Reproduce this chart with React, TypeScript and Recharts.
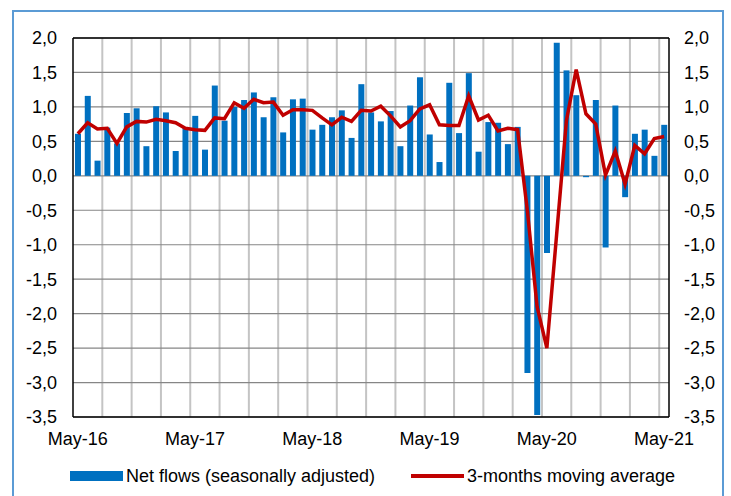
import React from 'react';
import { ComposedChart, Bar, Line, XAxis, YAxis, CartesianGrid, Legend, ReferenceLine } from 'recharts';

const monthNames = ['Jan', 'Feb', 'Mar', 'Apr', 'May', 'Jun', 'Jul', 'Aug', 'Sep', 'Oct', 'Nov', 'Dec'];
const categories: string[] = [];
for (let i = 0; i < 61; i++) {
  const m = (4 + i) % 12;
  const y = 16 + Math.floor((4 + i) / 12);
  categories.push(`${monthNames[m]}-${y}`);
}

const netFlows = [
  0.61, 1.16, 0.22, 0.70, 0.47, 0.91, 0.98, 0.43, 1.01, 0.92,
  0.36, 0.70, 0.87, 0.38, 1.31, 0.80, 1.00, 1.10, 1.21, 0.85,
  1.14, 0.63, 1.11, 1.12, 0.67, 0.74, 0.85, 0.95, 0.55, 1.33,
  0.92, 0.79, 0.94, 0.43, 1.02, 1.43, 0.60, 0.20, 1.35, 0.62,
  1.49, 0.35, 0.78, 0.77, 0.46, 0.71, -2.86, -3.47, -1.12, 1.93,
  1.53, 1.17, -0.02, 1.10, -1.04, 1.02, -0.31, 0.61, 0.67, 0.29,
  0.74,
];

const movingAvg = [
  0.61, 0.77, 0.68, 0.69, 0.47, 0.71, 0.79, 0.78, 0.82, 0.80,
  0.77, 0.69, 0.67, 0.66, 0.84, 0.83, 1.06, 0.98, 1.11, 1.06,
  1.07, 0.88, 0.96, 0.96, 0.95, 0.84, 0.74, 0.85, 0.79, 0.95,
  0.94, 1.01, 0.87, 0.71, 0.80, 0.97, 1.03, 0.74, 0.73, 0.73,
  1.16, 0.81, 0.88, 0.65, 0.69, 0.67, -0.50, -1.90, -2.50, -0.85,
  0.80, 1.54, 0.90, 0.75, 0.01, 0.36, -0.12, 0.44, 0.32, 0.54,
  0.57,
];

const yTicks = [2, 1.5, 1, 0.5, 0, -0.5, -1, -1.5, -2, -2.5, -3, -3.5];
// vertical gridlines every 3 months, at the start of these categories
const gridCategoryIdx = [3, 6, 9, 12, 15, 18, 21, 24, 27, 30, 33, 36, 39, 42, 45, 48, 51, 54, 57, 60];

const seriesNames = ['Net flows (seasonally adjusted)', '3-months moving average'];

const data = categories.map((cat, i) => ({ cat, net: netFlows[i], ma: movingAvg[i] }));

const FONT = '"Liberation Sans", Arial, sans-serif';
const tickStyle = { fontFamily: FONT, fontSize: 18, fill: '#000' };
const fmt = (v: number) => v.toFixed(1).replace('.', ',');

const verticalGen = (p: any) => {
  const offset = p && p.offset;
  if (!offset) return [];
  return gridCategoryIdx.map((k) => offset.left + (k / categories.length) * offset.width);
};

const LegendContent = (props: any) => {
  const payload = props.payload || [];
  const items = seriesNames.map((n) => payload.find((p: any) => p.value === n)).filter(Boolean);
  const lefts = [70, 411];
  return (
    <div style={{ position: 'relative', width: 731, height: 0 }}>
      {items.map((p: any, i: number) => (
        <div key={i} style={{ position: 'absolute', left: lefts[i], top: 466, height: 20, display: 'flex', alignItems: 'center', whiteSpace: 'nowrap' }}>
          {p.type === 'line' || p.dataKey === 'ma' ? (
            <div style={{ width: 53, height: 3.5, background: p.color || '#C00000' }} />
          ) : (
            <div style={{ width: 53, height: 10, background: p.color || '#0070C0' }} />
          )}
          <span style={{ marginLeft: 3, fontFamily: FONT, fontSize: 18, color: '#000', lineHeight: '20px' }}>{p.value}</span>
        </div>
      ))}
    </div>
  );
};

export default function App() {
  return (
    <div style={{ position: 'absolute', left: 0, top: 0, width: 731, height: 496, overflow: 'hidden', background: '#fff' }}>
      <div style={{ position: 'absolute', left: 12, top: 10, width: 708, height: 600, border: '2px solid #5B9BD5' }} />
      <div style={{ position: 'absolute', left: 0, top: 0 }}>
        <ComposedChart width={731} height={496} data={data} margin={{ top: 38, right: 0, bottom: 49, left: 0 }}>
          <CartesianGrid
            stroke="#c4c4c4"
            strokeWidth={2}
            horizontal={false}
            verticalCoordinatesGenerator={verticalGen}
          />
          <CartesianGrid stroke="#868686" strokeWidth={1.2} vertical={false} />
          <XAxis
            dataKey="cat"
            interval={11}
            height={30}
            tickLine={false}
            tickSize={6}
            tickMargin={9}
            axisLine={{ stroke: '#000', strokeWidth: 1.5 }}
            tick={tickStyle}
          />
          <YAxis
            domain={[-3.5, 2]}
            ticks={yTicks}
            interval={0}
            width={73}
            tickLine={false}
            tickSize={6}
            tickMargin={10}
            tickFormatter={fmt}
            axisLine={{ stroke: '#000', strokeWidth: 1.5 }}
            tick={tickStyle}
          />
          <YAxis
            yAxisId="right"
            orientation="right"
            domain={[-3.5, 2]}
            ticks={yTicks}
            interval={0}
            width={62}
            tickLine={false}
            tickSize={6}
            tickMargin={9}
            tickFormatter={fmt}
            axisLine={{ stroke: '#000', strokeWidth: 1.5 }}
            tick={{ ...tickStyle, textAnchor: 'start' }}
            allowDataOverflow
          />
          <Bar dataKey="net" name={seriesNames[0]} fill="#0070C0" barSize={6} isAnimationActive={false} />
          <Line dataKey="ma" name={seriesNames[1]} stroke="#C00000" strokeWidth={3.5} dot={false} activeDot={false} type="linear" isAnimationActive={false} />
          <ReferenceLine y={2} stroke="#000" strokeWidth={1.5} />
          <Legend content={<LegendContent />} wrapperStyle={{ top: 0, left: 0, width: 731, height: 0 }} />
        </ComposedChart>
      </div>
    </div>
  );
}
